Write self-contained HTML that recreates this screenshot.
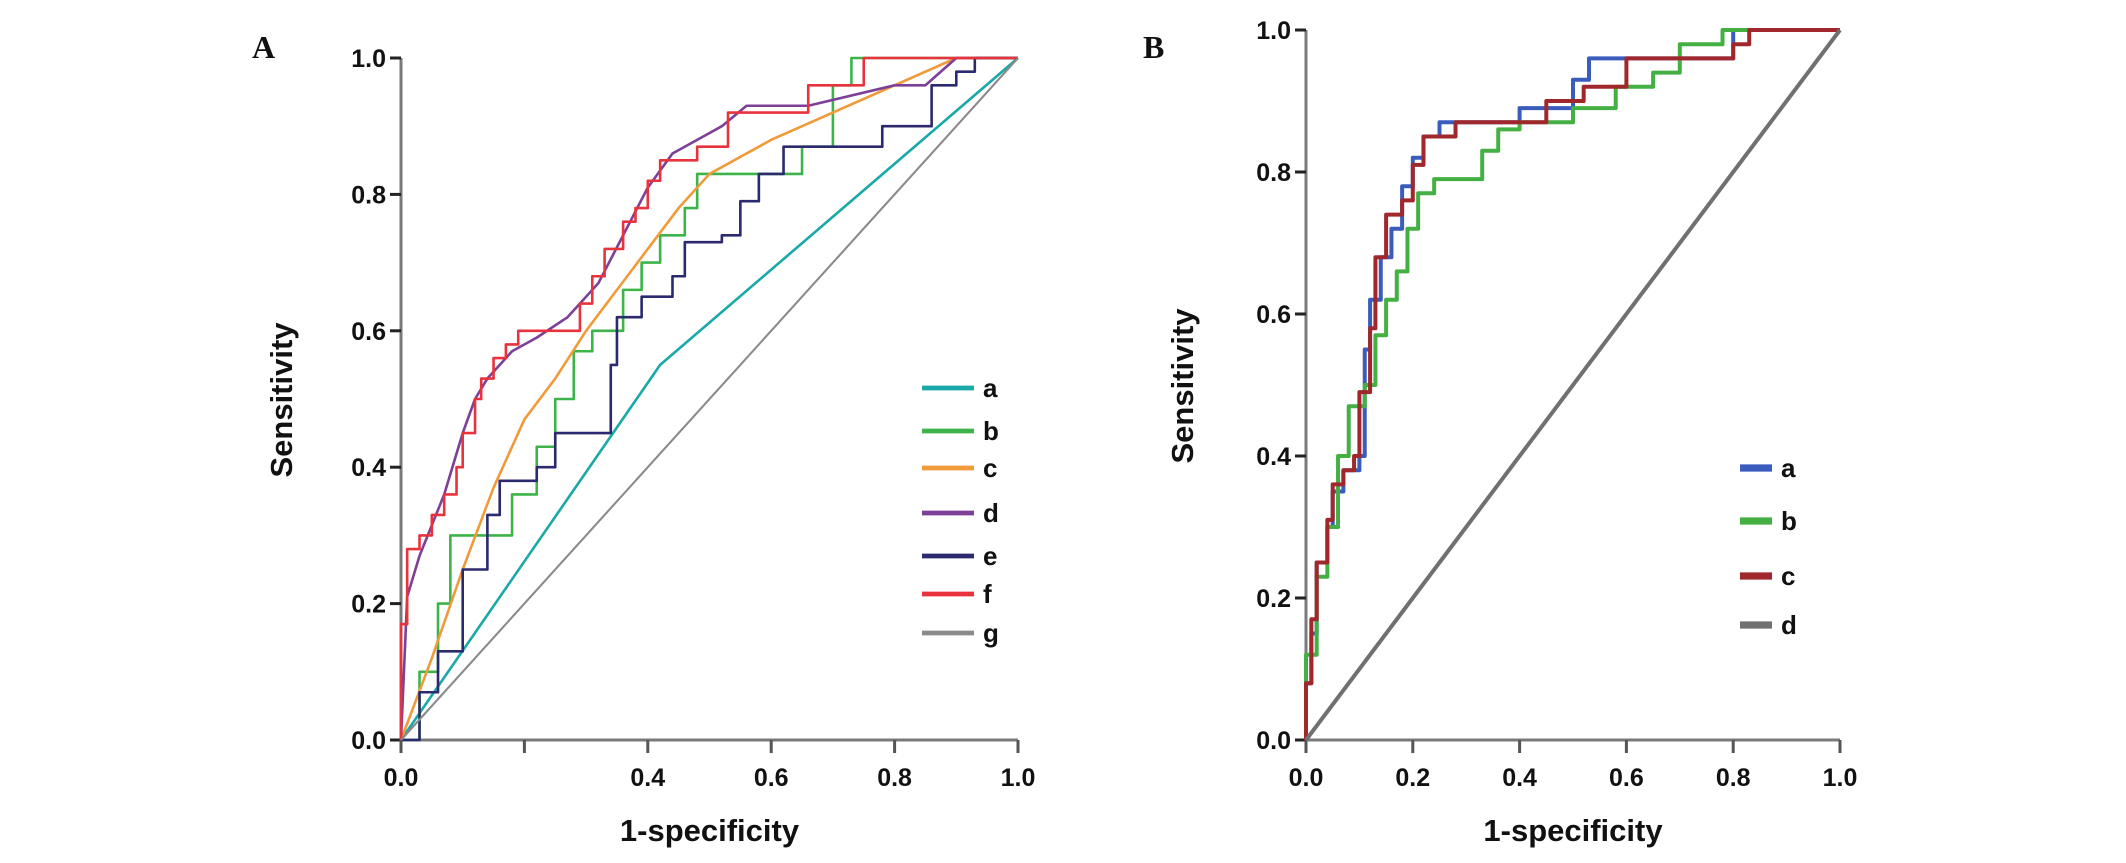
<!DOCTYPE html>
<html><head><meta charset="utf-8"><style>
body{margin:0;background:#fff;}
svg{display:block;font-family:"Liberation Sans",Arial,sans-serif;}
.tk{font-size:25px;font-weight:bold;fill:#111;}
.ttl{font-size:31px;font-weight:bold;fill:#111;}
.lg{font-size:26px;font-weight:bold;fill:#111;}
</style></head><body>
<svg id="chart" width="2126" height="863" viewBox="0 0 2126 863"></svg>
<script>
// Panel A data
const seriesNamesA = ['a','b','c','d','e','f','g'];
const aX = [0,0.42,1], aY = [0,0.55,1];
const bX = [0,0.03,0.06,0.08,0.14,0.18,0.22,0.25,0.28,0.31,0.36,0.39,0.42,0.46,0.48,0.58,0.65,0.70,0.73,1];
const bY = [0,0.10,0.20,0.30,0.30,0.36,0.43,0.50,0.57,0.60,0.66,0.70,0.74,0.78,0.83,0.83,0.87,0.96,1.0,1];
const cX = [0,0.05,0.10,0.15,0.20,0.25,0.30,0.35,0.40,0.45,0.50,0.60,0.70,0.80,0.90,1];
const cY = [0,0.12,0.25,0.37,0.47,0.53,0.60,0.66,0.72,0.78,0.83,0.88,0.92,0.96,1.0,1];
const dX = [0,0.01,0.03,0.07,0.10,0.12,0.14,0.18,0.22,0.27,0.32,0.36,0.40,0.44,0.48,0.52,0.56,0.66,0.80,0.85,0.90,1];
const dY = [0,0.21,0.27,0.36,0.45,0.50,0.53,0.57,0.59,0.62,0.67,0.74,0.81,0.86,0.88,0.90,0.93,0.93,0.96,0.96,1.0,1];
const eX = [0,0.03,0.06,0.10,0.14,0.16,0.22,0.25,0.33,0.34,0.35,0.39,0.44,0.46,0.52,0.55,0.58,0.62,0.70,0.78,0.86,0.90,0.93,1];
const eY = [0,0.07,0.13,0.25,0.33,0.38,0.40,0.45,0.45,0.55,0.62,0.65,0.68,0.73,0.74,0.79,0.83,0.87,0.87,0.90,0.96,0.98,1.0,1];
const fX = [0,0,0.01,0.03,0.05,0.07,0.09,0.10,0.12,0.13,0.15,0.17,0.19,0.27,0.29,0.31,0.33,0.36,0.38,0.40,0.42,0.48,0.53,0.60,0.66,0.75,1];
const fY = [0,0.17,0.28,0.30,0.33,0.36,0.40,0.45,0.50,0.53,0.56,0.58,0.60,0.60,0.64,0.68,0.72,0.76,0.78,0.82,0.85,0.87,0.92,0.92,0.96,1.0,1];
const gX = [0,1], gY = [0,1];
// Panel B data
const seriesNamesB = ['a','b','c','d'];
const baX = [0,0,0.01,0.02,0.04,0.05,0.07,0.10,0.11,0.12,0.14,0.16,0.18,0.20,0.22,0.25,0.36,0.40,0.50,0.53,0.70,0.80,1];
const baY = [0,0.08,0.15,0.25,0.30,0.35,0.38,0.40,0.55,0.62,0.68,0.72,0.78,0.82,0.85,0.87,0.87,0.89,0.93,0.96,0.96,1.0,1];
const bbX = [0,0,0.02,0.04,0.06,0.08,0.11,0.13,0.15,0.17,0.19,0.21,0.24,0.30,0.33,0.36,0.40,0.50,0.58,0.65,0.70,0.78,1];
const bbY = [0,0.12,0.23,0.30,0.40,0.47,0.50,0.57,0.62,0.66,0.72,0.77,0.79,0.79,0.83,0.86,0.87,0.89,0.92,0.94,0.98,1.0,1];
const bcX = [0,0,0.01,0.02,0.04,0.05,0.07,0.09,0.10,0.12,0.13,0.15,0.18,0.20,0.22,0.28,0.38,0.45,0.52,0.60,0.70,0.80,0.83,1];
const bcY = [0,0.08,0.17,0.25,0.31,0.36,0.38,0.40,0.49,0.58,0.68,0.74,0.76,0.81,0.85,0.87,0.87,0.90,0.92,0.96,0.96,0.98,1.0,1];
const bdX = [0,1], bdY = [0,1];
const tickVals = [0,0.2,0.4,0.6,0.8,1.0];
const tickLabels = ['0.0','0.2','0.4','0.6','0.8','1.0'];

const svg = document.getElementById('chart');
const NS = 'http://www.w3.org/2000/svg';
function mk(tag, attrs, parent){const e=document.createElementNS(NS,tag);for(const k in attrs)e.setAttribute(k,attrs[k]);(parent||svg).appendChild(e);return e;}

function panel(P){
  const sx=v=>P.x0+v*(P.x1-P.x0), sy=v=>P.y0-v*(P.y0-P.y1);
  const g=mk('g',{});
  
  
  // axes
  const ax=mk('path',{d:`M${P.x0} ${sy(1)}V${P.y0}H${P.x1}`,stroke:'#7a7a7a','stroke-width':3,fill:'none'},g);
  
  
  tickVals.forEach((v,i)=>{
    const t=mk('line',{x1:P.x0-11,x2:P.x0,y1:sy(v),y2:sy(v),stroke:'#222','stroke-width':3},g);
    
    
    const l=mk('text',{x:P.x0-15,y:sy(v)+9,'text-anchor':'end',class:'tk'},g);l.textContent=tickLabels[i];
    
    
    const t2=mk('line',{x1:sx(v),x2:sx(v),y1:P.y0,y2:P.y0+13,stroke:'#555','stroke-width':3},g);
    
    
    if(!(P.skip02 && i===1)){
      const l2=mk('text',{x:sx(v),y:P.y0+46,'text-anchor':'middle',class:'tk'},g);l2.textContent=tickLabels[i];
      
      
    }
  });
  const xt=mk('text',{x:(P.x0+P.x1)/2,y:P.y0+101,'text-anchor':'middle',class:'ttl'},g);xt.textContent='1-specificity';
  
  
  const yt=mk('text',{x:0,y:0,'text-anchor':'middle',class:'ttl',transform:`translate(${P.ytx},${P.yty}) rotate(-90)`},g);yt.textContent='Sensitivity';
  
  
  const pl=mk('text',{x:P.lx,y:P.ly,style:'font-family:"Liberation Serif",serif;font-weight:bold;font-size:32px;fill:#111'},g);pl.textContent=P.label;
  
  
  P.series.forEach((s,i)=>{
    let d='';
    for(let k=0;k<s.x.length;k++){
      if(k===0) d+=`M${sx(s.x[k])} ${sy(s.y[k])}`;
      else if(s.step) d+=`H${sx(s.x[k])}V${sy(s.y[k])}`;
      else d+=`L${sx(s.x[k])} ${sy(s.y[k])}`;
    }
    const p=mk('path',{d,stroke:s.c,'stroke-width':P.sw*(s.w||1),fill:'none','stroke-linejoin':'round'},g);
    
    
    const ly=P.legY[i];
    const ll=mk('line',{x1:P.legX,x2:P.legX+P.legW,y1:ly,y2:ly,stroke:s.c,'stroke-width':P.sw*1.8},g);
    
    
    const lt=mk('text',{x:P.legX+P.legW+9,y:ly+9,class:'lg'},g);lt.textContent=s.n;
    
    
  });
}
panel({name:'panel-a',label:'A',lx:252,ly:58,x0:401,x1:1018,y0:740,y1:58,ytx:292,yty:400,skip02:true,sw:2.6,
  legX:922,legW:52,legY:[388,431,468,513,556,594,633],
  series:[
    {n:'a',x:aX,y:aY,c:'#1aa8a8'},
    {n:'b',x:bX,y:bY,c:'#3cb44a',step:true},
    {n:'c',x:cX,y:cY,c:'#f09a3a'},
    {n:'d',x:dX,y:dY,c:'#7d3f98'},
    {n:'e',x:eX,y:eY,c:'#2b2a6e',step:true},
    {n:'f',x:fX,y:fY,c:'#e8323c',step:true},
    {n:'g',x:gX,y:gY,c:'#8a8a8a',w:0.8}
  ]});
panel({name:'panel-b',label:'B',lx:1143,ly:58,x0:1306,x1:1840,y0:740,y1:30,ytx:1193,yty:386,skip02:false,sw:4,
  legX:1740,legW:32,legY:[468,521,576,625],
  series:[
    {n:'a',x:baX,y:baY,c:'#3a5cbc',step:true},
    {n:'b',x:bbX,y:bbY,c:'#44b044',step:true},
    {n:'c',x:bcX,y:bcY,c:'#a0282c',step:true},
    {n:'d',x:bdX,y:bdY,c:'#707070'}
  ]});
</script>
</body></html>
